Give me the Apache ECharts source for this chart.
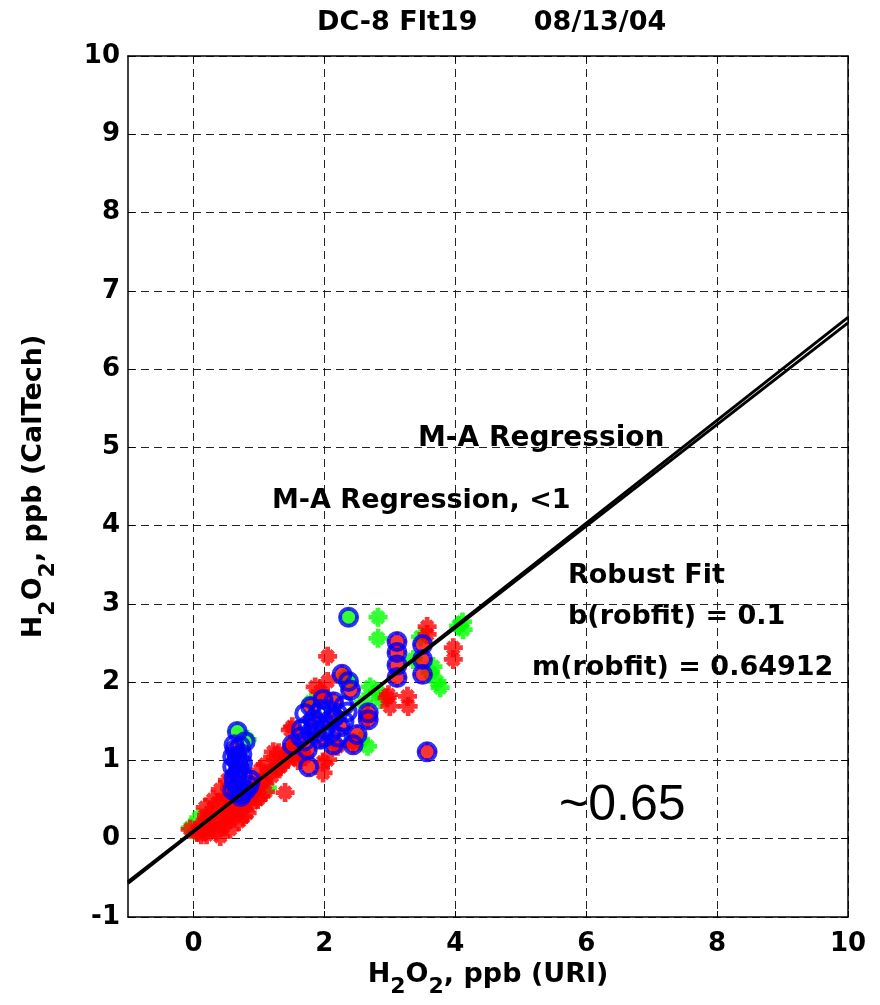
<!DOCTYPE html>
<html><head><meta charset="utf-8">
<script src="https://cdn.jsdelivr.net/npm/echarts@6/dist/echarts.min.js"></script>
<style>html,body{margin:0;padding:0;background:#fff}#c{width:880px;height:1005px}</style>
</head><body><div id="c"></div>
<script>
const titleText = 'DC-8 Flt19      08/13/04';
const xTickValues = [0, 2, 4, 6, 8, 10];
const yTickValues = [-1, 0, 1, 2, 3, 4, 5, 6, 7, 8, 9, 10];

// red asterisks (all data)
const redPts = [
  [-0.05,0.12],[0.06,0.08],[0.1,0.15],[0.14,0.2],[0.18,0.1],[0.26,0.28],[0.18,0.4],[0.31,0.2],
  [0.37,0.46],[0.41,0.03],[0.41,0.63],[0.46,0.28],[0.5,0.35],[0.52,0.75],[0.56,0.12],[0.56,0.54],
  [0.61,0.37],[0.69,0.22],[0.72,0.37],[0.76,0.28],[0.82,0.33],[0.9,0.46],[0.98,0.5],[1.02,0.54],
  [1.05,0.72],[1.02,0.88],[1.07,0.75],[1.15,0.84],[1.25,1.01],[1.22,1.11],[1.28,0.9],[1.33,0.92],
  [1.37,0.97],[1.4,0.59],[1.45,1.04],[1.53,1.2],[1.48,1.39],[1.44,1.1],[1.51,1.43],[1.6,1.0],
  [1.7,1.05],[1.86,1.94],[2.05,2.33],[2.05,2.01],[1.94,1.88],[1.98,0.84],[2.05,1.01],[1.98,0.98],
  [2.2,1.18],[2.44,1.23],[2.66,1.56],[2.96,1.8],[2.98,1.84],[3.0,1.69],[3.27,1.82],[3.28,1.69],
  [3.57,2.71],[3.57,2.61],[3.97,2.44],[3.97,2.29],
  [0.2,0.05],[0.25,0.15],[0.3,0.35],[0.35,0.1],[0.45,0.15],[0.5,0.2],[0.55,0.3],[0.6,0.45],
  [0.65,0.3],[0.7,0.45],[0.75,0.55],[0.8,0.45],[0.85,0.55],[0.9,0.6],[0.95,0.65],[1.1,0.95],
  [1.2,0.8],[1.3,1.1],[1.1,0.6],[0.3,0.5],[0.2,0.3],[0.12,0.05],[0.45,0.5],[0.55,0.65],
  [1.55,1.05],[1.6,1.25],[1.65,1.1],
  [3.11,2.52],[3.11,2.38],[3.11,2.22],[3.11,2.06],[3.5,2.48],[3.5,2.29],[3.5,2.10],[3.57,1.11],
  [2.27,2.10],[2.40,1.9],[1.79,1.69],[1.98,1.78],[2.14,1.75],[1.83,1.52],[2.09,1.52],[2.24,1.43],
  [1.79,1.36],[1.94,1.27],[1.51,1.2],[1.74,1.14],[1.76,0.92],[2.14,1.2],[2.44,1.2],[2.67,1.61],
  [2.67,1.52],[2.5,1.33],[0.64,1.14],[0.67,1.05],[0.69,0.95],[0.67,0.84],[0.87,0.75],[0.69,0.69],
  [0.67,0.59],[0.72,0.54]
];

// green asterisks (subset)
const greenPts = [
  [-0.05,0.14],[0.08,0.27],[0.03,0.1],[1.13,0.65],[0.85,0.6],[2.82,2.83],[2.82,2.56],[4.11,2.77],
  [4.12,2.67],[4.05,2.72],[3.47,2.58],[3.36,2.29],[3.62,2.12],[3.72,2.01],[3.77,1.93],[3.66,2.2],
  [2.7,1.94],[2.81,1.88],[2.85,1.78],[2.6,1.75],[2.66,1.18],[2.55,1.25],[2.37,2.83],[0.67,1.37],
  [0.82,1.27],[2.37,2.01],[2.3,2.05],[1.8,1.75]
];

// blue circles (subset)
const bluePts = [
  [2.37,2.83],
  [3.11,2.52],[3.11,2.38],[3.11,2.22],[3.11,2.06],
  [3.5,2.48],[3.5,2.29],[3.5,2.10],
  [3.57,1.11],
  [2.27,2.10],[2.37,2.01],[2.40,1.9],
  [1.79,1.69],[1.98,1.78],[2.14,1.75],[1.83,1.52],[2.09,1.52],[2.24,1.43],[1.79,1.36],[1.94,1.27],
  [1.51,1.2],[1.74,1.14],[1.76,0.92],[2.14,1.2],[2.44,1.2],[2.67,1.61],[2.67,1.52],[2.5,1.33],
  [1.9,1.6],[2.0,1.4],[1.85,1.45],[2.2,1.6],[1.64,1.3],[2.3,1.7],
  [1.7,1.6],[1.75,1.45],[1.95,1.65],[2.05,1.65],[2.15,1.55],[2.0,1.3],[1.88,1.35],[2.1,1.35],
  [2.3,1.5],[1.65,1.4],[1.7,1.25],[2.2,1.3],[2.35,1.62],
  [0.67,1.37],[0.79,1.24],[0.64,1.14],[0.67,1.05],[0.69,0.95],[0.67,0.84],[0.87,0.75],[0.69,0.69],
  [0.67,0.59],[0.72,0.54],[0.66,1.0],[0.7,0.9],[0.62,0.78],[0.7,0.65],
  [0.62,1.2],[0.72,1.18],[0.6,1.05],[0.74,1.08],[0.6,0.92],[0.75,0.96],[0.63,0.72],[0.75,0.8],
  [0.6,0.62],[0.8,0.62],[0.85,0.68],[0.75,0.58]
];

// fit lines (end points)
const fitMA = [[-1,-0.57],[10,6.66]];
const fitRobust = [[-1,-0.55],[10,6.59]];

const annotations = [
  {text:'M-A Regression', x:418, y:439, size:28},
  {text:'M-A Regression, <1', x:272, y:501, size:27},
  {text:'Robust Fit', x:568, y:576, size:27},
  {text:'b(robfit) = 0.1', x:568, y:617, size:27},
  {text:'m(robfit) = 0.64912', x:532, y:668, size:27}
];

const FONT = 'DejaVu Sans';
const star = 'path://M4.5 0h3v12h-3zM0 4.5h12v3H0zM1.4 3.5L3.5 1.4L10.6 8.5L8.5 10.6zM8.5 1.4L10.6 3.5L3.5 10.6L1.4 8.5z';

const yNameRich = {
  n: {fontFamily: FONT, fontWeight: 'bold', fontSize: 27, color: '#000', lineHeight: 32, verticalAlign: 'middle'},
  s: {fontFamily: FONT, fontWeight: 'bold', fontSize: 22, color: '#000', lineHeight: 32, verticalAlign: 'middle', padding: [28, 0, 0, 0]}
};
const xNameRich = {
  n: {fontFamily: FONT, fontWeight: 'bold', fontSize: 27, color: '#000', lineHeight: 32, verticalAlign: 'top'},
  s: {fontFamily: FONT, fontWeight: 'bold', fontSize: 22, color: '#000', lineHeight: 32, verticalAlign: 'top', padding: [14, 0, 0, 0]}
};

const chart = echarts.init(document.getElementById('c'), null, {renderer: 'canvas'});
const axisCommon = {
  type: 'value', min: -1, max: 10,
  axisLine: {show: true, onZero: false, lineStyle: {color: '#000', width: 1.5}},
};
chart.setOption({
  animation: false,
  backgroundColor: '#fff',
  grid: {left: 128, right: 32, top: 56, bottom: 88, containLabel: false, outerBoundsMode: 'none'},
  xAxis: [
    Object.assign({}, axisCommon, {
      position: 'bottom',
      name: '{n|H}{s|2}{n|O}{s|2}{n|, ppb (URI)}',
      nameLocation: 'middle', nameGap: 1,
      nameTextStyle: {rich: xNameRich},
      axisTick: {show: true, inside: true, length: 6, customValues: xTickValues, lineStyle: {color: '#000', width: 1}},
      axisLabel: {show: true, customValues: xTickValues, margin: 14, fontFamily: FONT, fontWeight: 'bold', fontSize: 26, color: '#000'},
      splitLine: {show: true, lineStyle: {color: '#222', width: 1, type: [8, 5]}}
    }),
    Object.assign({}, axisCommon, {
      position: 'top',
      axisTick: {show: true, inside: true, length: 6, customValues: xTickValues, lineStyle: {color: '#000'}},
      axisLabel: {show: false},
      splitLine: {show: false}
    })
  ],
  yAxis: [
    Object.assign({}, axisCommon, {
      position: 'left', interval: 1,
      name: '{n|H}{s|2}{n|O}{s|2}{n|, ppb (CalTech)}',
      nameLocation: 'middle', nameGap: 78,
      nameTextStyle: {rich: yNameRich},
      axisTick: {show: true, inside: true, length: 7, lineStyle: {color: '#000'}},
      axisLabel: {show: true, margin: 8, fontFamily: FONT, fontWeight: 'bold', fontSize: 26, color: '#000'},
      splitLine: {show: true, lineStyle: {color: '#222', width: 1, type: [8, 5]}}
    }),
    Object.assign({}, axisCommon, {
      position: 'right', interval: 1,
      axisTick: {show: true, inside: true, length: 7, lineStyle: {color: '#000'}},
      axisLabel: {show: false},
      splitLine: {show: false}
    })
  ],
  graphic: [
    {type: 'text', x: 317, y: 23, style: {text: titleText, fontFamily: FONT, fontWeight: 'bold', fontSize: 27, fill: '#000', textVerticalAlign: 'middle'}},
    ...annotations.map(a => ({type: 'text', x: a.x, y: a.y, z: 50, style: {text: a.text, fontFamily: FONT, fontWeight: 'bold', fontSize: a.size, fill: '#000', textVerticalAlign: 'middle'}})),
    {type: 'text', x: 559, y: 806, z: 50, style: {text: '~0.65', fontFamily: 'Liberation Sans', fontSize: 50, fill: '#000', textVerticalAlign: 'middle'}}
  ],
  series: [
    {type: 'scatter', name: 'green', data: greenPts, symbol: star, symbolSize: 19, itemStyle: {color: '#00ff00'}, z: 2},
    {type: 'scatter', name: 'red', data: redPts, symbol: star, symbolSize: 19, itemStyle: {color: '#ff0000'}, z: 3},
    {type: 'scatter', name: 'blue', data: bluePts, symbol: 'circle', symbolSize: 17, itemStyle: {color: 'rgba(0,0,0,0)', borderColor: '#0000ff', borderWidth: 4}, z: 4},
    {type: 'line', name: 'M-A', data: fitMA, showSymbol: false, symbol: 'none', lineStyle: {color: '#000', width: 3}, z: 5},
    {type: 'line', name: 'Robust', data: fitRobust, showSymbol: false, symbol: 'none', lineStyle: {color: '#000', width: 3}, z: 5}
  ]
});
</script>
</body></html>
